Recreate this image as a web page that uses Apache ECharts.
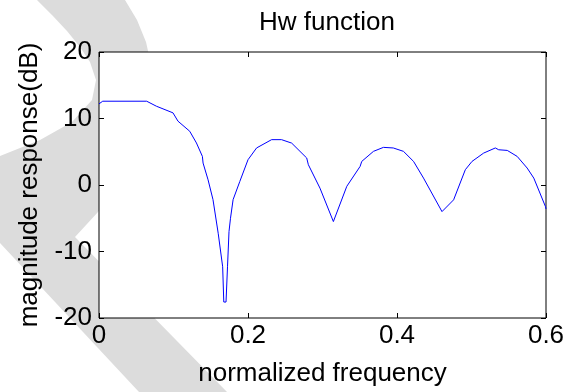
<!DOCTYPE html>
<html>
<head>
<meta charset="utf-8">
<script src="https://cdn.jsdelivr.net/npm/echarts@6/dist/echarts.min.js"></script>
<style>
  html, body { margin: 0; padding: 0; background: #fff; }
  #chart { width: 575px; height: 392px; }
</style>
</head>
<body>
<div id="chart"></div>
<script>
// normalized frequency samples
const freq = [0, 0.005, 0.064, 0.077, 0.0993, 0.106, 0.1218, 0.1308, 0.1388, 0.1397, 0.1464, 0.153, 0.16, 0.166, 0.1675,
    0.1705, 0.1725, 0.1745, 0.1765, 0.18, 0.189, 0.2, 0.2025, 0.2115, 0.2317, 0.245, 0.2586, 0.2788, 0.281, 0.2966, 0.3146,
    0.3326, 0.3505, 0.3527, 0.3684, 0.3818, 0.395, 0.4087, 0.4222, 0.4356, 0.4604, 0.4627, 0.476, 0.4917, 0.5007, 0.5163,
    0.532, 0.5365, 0.548, 0.5613, 0.5747, 0.5836, 0.5993, 0.6]
// magnitude response in dB
const magDb = [12.2, 12.6, 12.6, 11.85, 10.85, 9.6, 8.08, 6.32, 4.3, 3.3, 0.78, -2.2, -7.26, -12.3, -17.6,
    -17.6, -12.3, -7.0, -5.0, -2.2, 0.53, 3.8, 3.8, 5.57, 6.82, 6.82, 6.3, 4.06, 3.05, -0.47, -5.5,
    -0.2, 2.8, 3.55, 5.06, 5.66, 5.57, 5.06, 3.55, 1.04, -4.0, -4.0, -2.23, 2.3, 3.55, 4.8,
    5.57, 5.3, 5.2, 4.3, 2.55, 1.04, -3.25, -3.6]
const xTicks = [0, 0.2, 0.4, 0.6]
const yTicks = [-20, -10, 0, 10, 20]

const font = 'Liberation Sans, Arial, sans-serif'
const chart = echarts.init(document.getElementById('chart'))

const axisBase = (extra) => ({
    axisLine: { show: false, onZero: false },
    axisTick: { show: true, inside: true, length: 5, lineStyle: { color: '#000' } },
    splitLine: { show: false },
    ...extra,
})

chart.setOption({
    animation: false,
    backgroundColor: '#fff',
    title: {
        text: 'Hw function',
        left: 322,
        top: 5,
        textAlign: 'center',
        textStyle: { fontFamily: font, fontSize: 26, fontWeight: 'normal', color: '#000' },
    },
    graphic: [{
        type: 'polygon',
        z: -10,
        silent: true,
        shape: {
            points: [[37, 0], [125, 0], [137, 20], [146, 42], [150, 60], [150, 100], [140, 150], [120, 185], [98, 212],
                [75, 237], [227, 392], [139, 392], [0, 243], [0, 156], [40, 140], [72, 122], [92, 100], [96, 80],
                [90, 62], [80, 47], [67, 31], [52, 15]],
        },
        style: { fill: '#dcdcdc' },
    }],
    grid: {
        left: 99, right: 29, top: 52, bottom: 74,
        show: true, backgroundColor: '#fff', borderColor: '#000', borderWidth: 1, z: 0,
    },
    xAxis: [
        axisBase({
            type: 'value', min: xTicks[0], max: xTicks[xTicks.length - 1], interval: 0.2, position: 'bottom',
            name: 'normalized frequency', nameLocation: 'middle', nameGap: 43,
            nameTextStyle: { fontFamily: font, fontSize: 26, color: '#000' },
            axisLabel: { fontFamily: font, fontSize: 26, color: '#000', margin: 5 },
        }),
        axisBase({
            type: 'value', min: 0, max: 0.6, interval: 0.2, position: 'top',
            axisLabel: { show: false },
        }),
    ],
    yAxis: [
        axisBase({
            type: 'value', min: yTicks[0], max: yTicks[yTicks.length - 1], interval: 10, position: 'left',
            name: 'magnitude response(dB)', nameLocation: 'middle', nameGap: 56,
            nameTextStyle: { fontFamily: font, fontSize: 26, color: '#000' },
            axisLabel: { fontFamily: font, fontSize: 26, color: '#000', margin: 7 },
        }),
        axisBase({
            type: 'value', min: -20, max: 20, interval: 10, position: 'right',
            axisLabel: { show: false },
        }),
    ],
    series: [{
        type: 'line',
        data: freq.map((f, i) => [f, magDb[i]]),
        showSymbol: false,
        smooth: false,
        lineStyle: { color: '#0000ff', width: 1 },
        z: 5,
    }],
})
</script>
</body>
</html>
